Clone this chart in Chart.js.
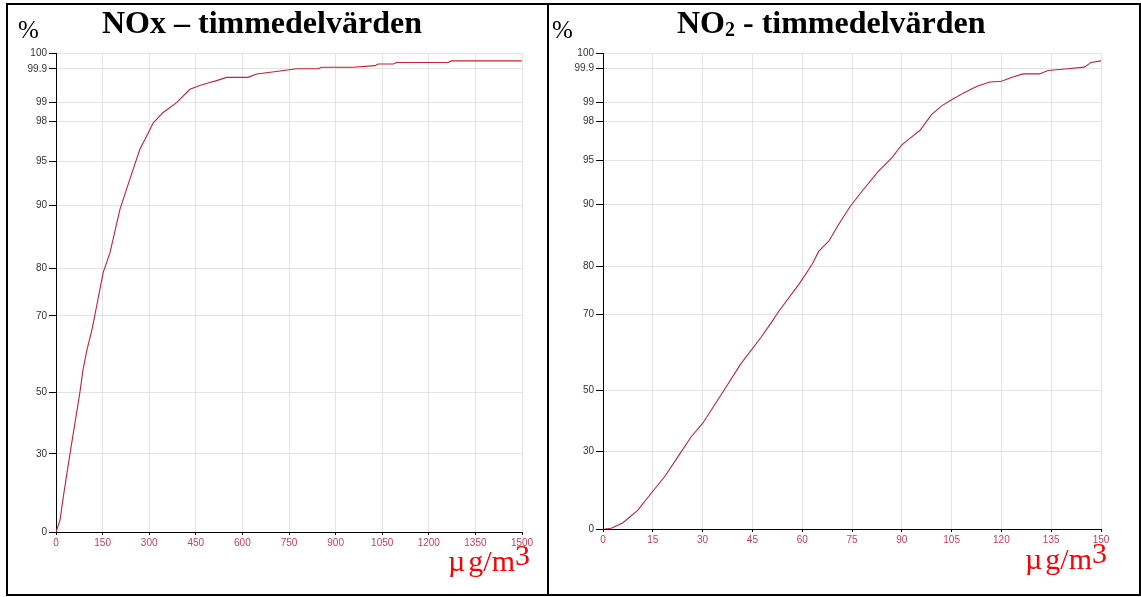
<!DOCTYPE html>
<html>
<head>
<meta charset="utf-8">
<script src="https://cdn.jsdelivr.net/npm/chart.js@4.4.1/dist/chart.umd.min.js"></script>
<style>
  body { margin: 0; background: #fff; width: 1141px; height: 597px; overflow: hidden; position: relative; }
  canvas { position: absolute; top: 0; }
  #noxChart { left: 0; }
  #no2Chart { left: 548px; }
  .frame { position: absolute; top: 3px; height: 593px; border: 2px solid #000; box-sizing: border-box; }
  .serif { position: absolute; font-family: "Liberation Serif", "Times New Roman", serif; line-height: 1; white-space: nowrap; }
  .title { font-weight: bold; font-size: 32px; color: #000; top: 6px; }
  .pct { font-size: 25px; color: #000; top: 17px; }
  .unit { font-size: 30px; color: #f00; }
  .unit .mu { margin-right: 3px; }
  .unit .sup { position: relative; top: -6px; }
  .sub { font-size: 20px; position: relative; top: 3px; }
</style>
</head>
<body>
<div class="frame" style="left:6px; width:543px;"></div>
<div class="frame" style="left:547px; width:594px;"></div>

<canvas id="noxChart" width="548" height="597"></canvas>
<canvas id="no2Chart" width="593" height="597"></canvas>

<div class="serif pct" style="left:18px;">%</div>
<div class="serif title" style="left:102px;">NOx – timmedelvärden</div>
<div class="serif unit" style="left:448px; top:546px;"><span class="mu">µ</span>g/m<span class="sup">3</span></div>

<div class="serif pct" style="left:552px;">%</div>
<div class="serif title" style="left:677px;">NO<span class="sub">2</span> - timmedelvärden</div>
<div class="serif unit" style="left:1025px; top:544px;"><span class="mu">µ</span>g/m<span class="sup">3</span></div>

<script>
// cumulative frequency, % of hours below concentration
var noxConc = [0, 13, 23.5, 45, 77, 87, 100, 116, 131, 152, 174, 206, 238, 270, 292, 313, 345, 389, 431, 463, 495, 512, 549, 618, 646, 721, 775, 844, 855, 956, 1027, 1037, 1086, 1096, 1262, 1273, 1499];
var noxPct = [0, 4.6, 13.5, 30, 50, 55.9, 61.2, 66.5, 72.1, 79.1, 82.5, 89.4, 93.0, 95.9, 96.9, 97.9, 98.47, 99.0, 99.35, 99.45, 99.53, 99.57, 99.67, 99.67, 99.76, 99.84, 99.9, 99.9, 99.91, 99.91, 99.92, 99.93, 99.93, 99.94, 99.94, 99.95, 99.95];

var no2Conc = [0.5, 2.5, 6, 10.5, 15, 18.5, 22.5, 26.5, 30, 36.5, 41.5, 47.5, 51, 53, 59, 63, 65, 68, 71, 74.5, 78, 83, 87, 90, 93, 95.5, 99, 102, 105, 108.5, 112.5, 116.5, 120, 123, 126.5, 131.5, 134, 140, 145, 147, 150];
var no2Pct = [0, 0.3, 2.4, 7.3, 14.6, 20.1, 27.8, 34.7, 39.1, 50, 56.9, 63.8, 68.2, 70.7, 76.3, 80.4, 82.5, 84.1, 86.8, 89.7, 91.5, 93.8, 95.2, 96.2, 96.8, 97.3, 98.35, 98.8, 99.06, 99.24, 99.42, 99.54, 99.56, 99.66, 99.76, 99.76, 99.85, 99.9, 99.91, 99.94, 99.95];

var pctTicks = [0, 30, 50, 70, 80, 90, 95, 98, 99, 99.9, 100];

// where each percent tick sits along the axis (0 = bottom, 100 = top)
var pctSpacing = [0, 16.3, 29.2, 45.1, 55.1, 68.2, 77.4, 85.7, 89.7, 96.7, 100];

function pctToDecimal(v) {
  for (var i = 1; i < pctTicks.length; i++) {
    if (v <= pctTicks[i]) {
      var f = (v - pctTicks[i - 1]) / (pctTicks[i] - pctTicks[i - 1]);
      return (pctSpacing[i - 1] + f * (pctSpacing[i] - pctSpacing[i - 1])) / 100;
    }
  }
  return 1;
}

class ProbabilityScale extends Chart.LinearScale {
  buildTicks() {
    this.min = 0;
    this.max = 100;
    return pctTicks.map(v => ({ value: v }));
  }
  getPixelForValue(v) {
    return this.getPixelForDecimal(pctToDecimal(v));
  }
}
ProbabilityScale.id = 'probability';
ProbabilityScale.defaults = {};
Chart.register(ProbabilityScale);

var tickFont = { family: '"Liberation Sans", Arial, sans-serif', size: 10 };

function makeChart(id, conc, pct, xMax, xStep, yWidth, pad) {
  return new Chart(document.getElementById(id), {
    type: 'line',
    data: {
      datasets: [{
        data: conc.map((x, i) => ({ x: x, y: pct[i] })),
        borderColor: '#c8202f',
        borderWidth: 1.1,
        pointRadius: 0,
        fill: false,
        tension: 0
      }]
    },
    options: {
      responsive: false,
      animation: false,
      layout: { padding: pad },
      plugins: { legend: { display: false }, tooltip: { enabled: false } },
      scales: {
        x: {
          type: 'linear', min: 0, max: xMax,
          ticks: { stepSize: xStep, autoSkip: false, maxRotation: 0, color: '#d23a50', font: tickFont, padding: 2,
                   callback: v => String(v) },
          grid: { color: '#e4e4e4', tickColor: '#000', tickLength: 3 },
          border: { color: '#000', width: 1 },
          afterFit: s => { s.height = 20; }
        },
        y: {
          type: 'probability',
          ticks: { autoSkip: false, color: '#333', font: tickFont, padding: 2, callback: v => String(v) },
          grid: { color: '#e4e4e4', tickColor: '#000', tickLength: 7 },
          border: { color: '#000', width: 1 },
          afterFit: s => { s.width = yWidth; }
        }
      }
    }
  });
}

makeChart('noxChart', noxConc, noxPct, 1500, 150, 56, { left: 0, right: 26, top: 53, bottom: 45 });
makeChart('no2Chart', no2Conc, no2Pct, 150, 15, 55, { left: 0, right: 40, top: 53, bottom: 48 });
</script>
</body>
</html>
